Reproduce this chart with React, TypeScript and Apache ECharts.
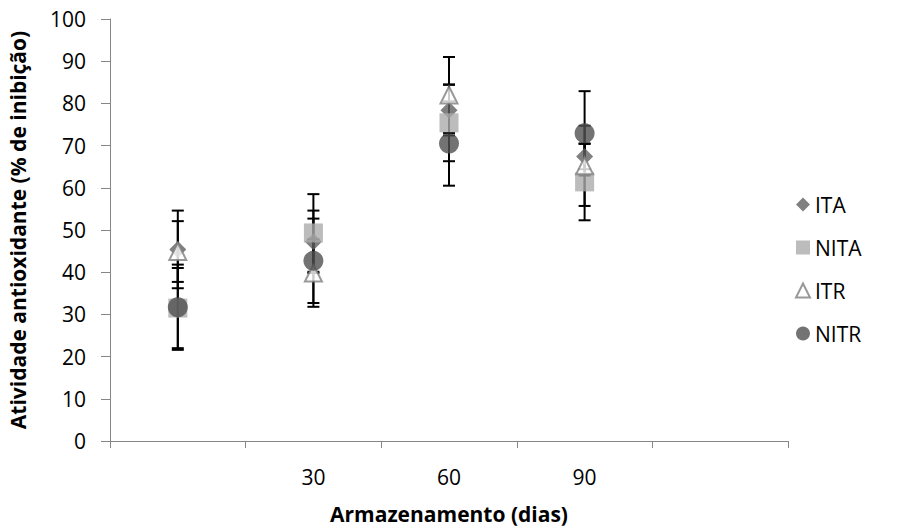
import React, { useEffect, useRef } from "react";
import * as echarts from "echarts";

const categories = ["", "30", "60", "90", ""];
const seriesNames = ["ITA", "NITA", "ITR", "NITR"];
const ita = [45.4, 47.2, 78.4, 67.4];
const itaErr = [9.2, 7.4, 6, 3];
const nita = [31.5, 49.3, 75.4, 61.4];
const nitaErr = [9.5, 9.2, 9.1, 9.1];
const itr = [44.9, 39.8, 82.0, 65.2];
const itrErr = [7.2, 8, 9, 9.5];
const nitr = [31.7, 42.7, 70.5, 72.9];
const nitrErr = [10.1, 10, 10, 10];
const xTitle = "Armazenamento (dias)";
const yTitle = "Atividade antioxidante (% de inibição)";

const FONT = "'Open Sans', 'Liberation Sans', sans-serif";
const FS = 21;

function errData(vals: number[], errs: number[]) {
  return vals.map((v, i) => [i, v - errs[i], v + errs[i]]);
}

function errSeries(name: string, vals: number[], errs: number[]) {
  return {
    type: "custom",
    name: name + "-err",
    z: 1,
    silent: true,
    data: errData(vals, errs),
    renderItem: (params: any, api: any) => {
      const x = api.value(0);
      const lo = api.coord([x, api.value(1)]);
      const hi = api.coord([x, api.value(2)]);
      const w = 6;
      const st = { stroke: "#000", lineWidth: 2 };
      return {
        type: "group",
        children: [
          { type: "line", shape: { x1: lo[0], y1: lo[1], x2: hi[0], y2: hi[1] }, style: st },
          { type: "line", shape: { x1: lo[0] - w, y1: lo[1], x2: lo[0] + w, y2: lo[1] }, style: st },
          { type: "line", shape: { x1: hi[0] - w, y1: hi[1], x2: hi[0] + w, y2: hi[1] }, style: st },
        ],
      };
    },
  };
}

export default function App() {
  const ref = useRef<HTMLDivElement>(null);
  useEffect(() => {
    if (!ref.current) return;
    const chart = echarts.init(ref.current, undefined, { renderer: "svg" });
    const toPts = (v: number[]) => v.map((y, i) => [i, y]);
    chart.setOption({
      animation: false,
      textStyle: { fontFamily: FONT },
      grid: { left: 110, right: 118, top: 19, bottom: 89, outerBoundsMode: "none", containLabel: false },
      legend: {
        data: seriesNames,
        orient: "vertical",
        left: 790,
        top: 189,
        itemWidth: 14,
        itemHeight: 14,
        itemGap: 22,
        textStyle: { fontSize: FS, color: "#000", fontFamily: FONT },
      },
      graphic: [
        {
          type: "text",
          x: 449,
          y: 514,
          style: {
            text: xTitle,
            fontSize: FS,
            fontWeight: "bold",
            fontFamily: FONT,
            fill: "#000",
            textAlign: "center",
            textVerticalAlign: "middle",
          },
        },
      ],
      xAxis: {
        type: "category",
        data: categories,
        boundaryGap: true,
        axisLine: { lineStyle: { color: "#868686", width: 1 } },
        axisTick: { show: true, alignWithLabel: false, length: 7, lineStyle: { color: "#868686" } },
        axisLabel: { fontSize: FS, color: "#000", margin: 25, fontFamily: FONT },
        splitLine: { show: false },
      },
      yAxis: {
        type: "value",
        min: 0,
        max: 100,
        interval: 10,
        name: yTitle,
        nameLocation: "middle",
        nameGap: 82,
        nameMoveOverlap: false,
        nameTextStyle: { fontSize: FS, fontWeight: "bold", color: "#000", fontFamily: FONT },
        axisLine: { show: true, lineStyle: { color: "#868686", width: 1 } },
        axisTick: { show: true, length: 9, lineStyle: { color: "#868686" } },
        axisLabel: { fontSize: FS, color: "#000", margin: 24, fontFamily: FONT },
        splitLine: { show: false },
      },
      series: [
        errSeries("ITA", ita, itaErr),
        errSeries("NITA", nita, nitaErr),
        errSeries("ITR", itr, itrErr),
        errSeries("NITR", nitr, nitrErr),
        {
          type: "scatter",
          name: "ITA",
          z: 3,
          symbol: "diamond",
          symbolSize: 17,
          itemStyle: { color: "#606060" },
          data: toPts(ita),
        },
        {
          type: "scatter",
          name: "NITA",
          z: 4,
          symbol: "rect",
          symbolSize: 19,
          itemStyle: { color: "#ababab" },
          data: toPts(nita),
        },
        {
          type: "scatter",
          name: "ITR",
          z: 5,
          symbol: "emptyTriangle",
          symbolSize: 17,
          itemStyle: { color: "#7f7f7f", borderColor: "#7f7f7f", borderWidth: 2 },
          data: toPts(itr),
        },
        {
          type: "scatter",
          name: "NITR",
          z: 6,
          symbol: "circle",
          symbolSize: 20,
          itemStyle: { color: "#505050" },
          data: toPts(nitr),
        },
      ],
    });
    return () => chart.dispose();
  }, []);
  return (
    <div
      ref={ref}
      style={{ position: "absolute", left: 0, top: 0, width: 906, height: 530 }}
    />
  );
}
